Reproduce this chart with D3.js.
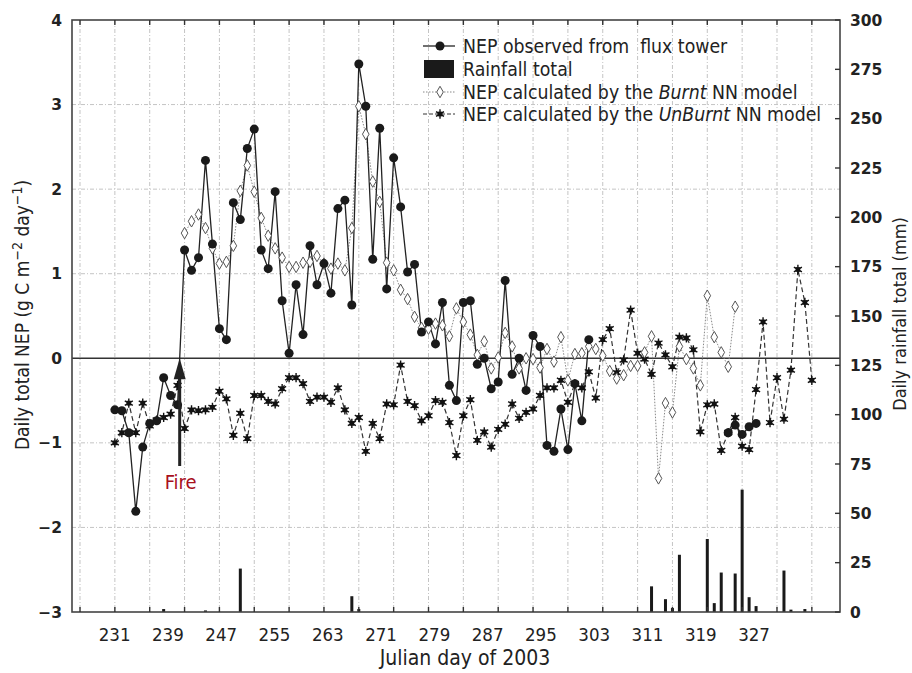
<!DOCTYPE html>
<html><head><meta charset="utf-8">
<script src="https://cdn.jsdelivr.net/npm/d3@7"></script>
<style>body{margin:0;background:#fff}svg{display:block}</style>
</head><body>
<svg id="c" width="912" height="673"></svg>
<script>
// ---------------- DATA ----------------
const unburntStart = 231;
const unburntNEP = [-1.00,-0.88,-0.53,-0.88,-0.53,-0.80,-0.73,-0.70,-0.66,-0.32,
 -0.83,-0.61,-0.62,-0.61,-0.58,-0.39,-0.48,-0.91,-0.65,-0.95,
 -0.44,-0.44,-0.51,-0.54,-0.36,-0.23,-0.23,-0.30,-0.51,-0.46,
 -0.46,-0.52,-0.35,-0.61,-0.77,-0.70,-1.10,-0.77,-0.95,-0.54,
 -0.55,-0.08,-0.51,-0.56,-0.74,-0.68,-0.50,-0.52,-0.76,-1.15,
 -0.68,-0.49,-0.97,-0.87,-1.05,-0.84,-0.78,-0.54,-0.71,-0.64,
 -0.60,-0.44,-0.35,-0.35,-0.26,-0.52,-0.30,-0.35,-0.16,-0.47,
 0.22,0.35,-0.17,-0.02,0.57,0.06,-0.01,-0.19,0.18,0.04,
 -0.10,0.25,0.24,0.10,-0.87,-0.55,-0.54,-1.09,-0.88,-0.70,
 -1.04,-1.08,-0.37,0.43,-0.76,-0.23,-0.72,-0.14,1.05,0.66,-0.26];

const burntStart = 241;
const burntNEP = [1.48,1.62,1.70,1.54,1.30,1.12,1.14,1.33,1.98,2.28,
 1.97,1.66,1.45,1.30,1.19,1.08,1.08,1.13,1.14,1.21,
 1.12,1.06,1.12,1.04,1.54,2.98,2.65,2.09,1.85,1.13,
 1.04,0.81,0.70,0.49,0.36,0.35,0.41,0.39,0.26,0.59,
 0.43,0.28,0.04,0.20,-0.12,0.01,0.30,0.14,-0.12,0.00,
 -0.01,-0.11,0.11,-0.04,0.25,-0.26,0.05,0.06,0.14,0.11,
 0.03,-0.15,-0.24,-0.20,-0.09,-0.09,0.07,0.26,-1.42,-0.53,
 -0.64,0.14,-0.01,-0.12,-0.32,0.74,0.25,0.07,-0.10,0.61];

const observedStart = 231;
const observedNEP = [-0.61,-0.62,-0.88,-1.81,-1.05,-0.77,-0.74,-0.23,-0.44,-0.55,
 1.28,1.04,1.19,2.34,1.35,0.35,0.22,1.84,1.64,2.48,
 2.71,1.28,1.06,1.97,0.68,0.06,0.87,0.28,1.33,0.87,
 1.12,0.77,1.77,1.87,0.63,3.48,2.98,1.17,2.72,0.82,
 2.37,1.79,1.02,1.11,0.31,0.43,0.17,0.66,-0.32,-0.50,
 0.66,0.68,-0.07,0.00,-0.36,-0.28,0.92,-0.19,0.00,-0.38,
 0.27,0.14,-1.03,-1.10,-0.60,-1.08,-0.30,-0.74,0.22,null,
 null,null,null,null,null,null,null,null,null,null,
 null,null,null,null,null,null,null,null,-0.88,-0.79,
 -0.90,-0.81,-0.77];

const rainDays = [238,244,249,265,266,308,310,311,312,316,317,318,320,321,322,323,327,328,330];
const rainMM   = [1.5,0.8,22,8,1.5,13,6.5,2,29,37,4.5,20,19.5,62,7.5,3,21,1.2,1.5];

const fireDay = 240.3;
const xTickLabels = [231,239,247,255,263,271,279,287,295,303,311,319,327];
const yTickLabels = [-3,-2,-1,0,1,2,3,4];
const rainTicks = [0,25,50,75,100,125,150,175,200,225,250,275,300];
const gridDays = d3.range(226, 332, 5);

// ---------------- LAYOUT ----------------
const L = 72, R = 840, T = 20, B = 612;
const svg = d3.select("#c");
const x = d3.scaleLinear().domain([224.85, 335.04]).range([L, R]);
const xLab = d3.scaleLinear().domain([224.6, 339.9]).range([L, R]);
const y = d3.scaleLinear().domain([-3, 4]).range([B, T]);
const yR = d3.scaleLinear().domain([0, 300]).range([B, T]);
const condensed = "'DejaVu Sans Condensed','DejaVu Sans',sans-serif";
const ink = "#222";

// gridlines
const grid = svg.append("g").attr("stroke", "#c4c4c4").attr("stroke-width", 1).attr("stroke-dasharray", "4,2,1,2");
grid.selectAll("line.v").data(gridDays).join("line")
  .attr("x1", d => x(d)).attr("x2", d => x(d)).attr("y1", T).attr("y2", B);
grid.selectAll("line.h").data(yTickLabels.filter(v => v !== 0 && v !== 4 && v !== -3)).join("line")
  .attr("x1", L).attr("x2", R).attr("y1", d => y(d)).attr("y2", d => y(d));

// rainfall bars
svg.append("g").selectAll("rect").data(rainDays.map((d, i) => ({d, v: rainMM[i]}))).join("rect")
  .attr("x", d => x(d.d) - 1.5).attr("width", 3)
  .attr("y", d => yR(d.v)).attr("height", d => yR(0) - yR(d.v)).attr("fill", "#1a1a1a");

// zero line
svg.append("line").attr("x1", L).attr("x2", R).attr("y1", y(0)).attr("y2", y(0))
  .attr("stroke", "#333").attr("stroke-width", 1.6);

// series
const toPts = (start, arr) => arr.map((v, i) => ({d: start + i, v}));
const obs = toPts(observedStart, observedNEP);
const brn = toPts(burntStart, burntNEP);
const unb = toPts(unburntStart, unburntNEP);
const line = d3.line().defined(p => p.v !== null).x(p => x(p.d)).y(p => y(p.v));

svg.append("path").attr("d", line(brn)).attr("fill", "none").attr("stroke", "#888")
  .attr("stroke-width", 1).attr("stroke-dasharray", "1.5,1.5");
svg.append("path").attr("d", line(unb)).attr("fill", "none").attr("stroke", "#333")
  .attr("stroke-width", 1.2).attr("stroke-dasharray", "5,3");
svg.append("path").attr("d", line(obs)).attr("fill", "none").attr("stroke", ink)
  .attr("stroke-width", 1.3);

const star = d3.symbol().type(d3.symbolAsterisk).size(60)();
const sq = d3.symbol().type(d3.symbolSquare).size(22)();
function drawStar(g) {
  g.append("path").attr("d", star).attr("stroke", "#111").attr("stroke-width", 1.4).attr("fill", "none");
  g.append("path").attr("d", sq).attr("fill", "#111");
}
const diamond = d3.symbol().type(d3.symbolDiamond).size(38)();

svg.append("g").selectAll("g").data(unb).join("g")
  .attr("transform", p => `translate(${x(p.d)},${y(p.v)})`).each(function(){ drawStar(d3.select(this)); });
svg.append("g").selectAll("path").data(brn).join("path")
  .attr("transform", p => `translate(${x(p.d)},${y(p.v)})`).attr("d", diamond)
  .attr("fill", "#fff").attr("stroke", "#555").attr("stroke-width", 1);
svg.append("g").selectAll("circle").data(obs.filter(p => p.v !== null)).join("circle")
  .attr("cx", p => x(p.d)).attr("cy", p => y(p.v)).attr("r", 4.5).attr("fill", "#1a1a1a");

// frame
svg.append("rect").attr("x", L).attr("y", T).attr("width", R - L).attr("height", B - T)
  .attr("fill", "none").attr("stroke", "#444").attr("stroke-width", 1.6);

// frame ticks (top & bottom at grid days, right at rain ticks)
const tk = svg.append("g").attr("stroke", "#333").attr("stroke-width", 1.4);
tk.selectAll("line.t").data(gridDays).join("line").attr("x1", d => x(d)).attr("x2", d => x(d)).attr("y1", T).attr("y2", T + 5);
tk.selectAll("line.b").data(gridDays).join("line").attr("x1", d => x(d)).attr("x2", d => x(d)).attr("y1", B).attr("y2", B - 5);
tk.selectAll("line.r").data(rainTicks).join("line").attr("x1", R).attr("x2", R - 5).attr("y1", d => yR(d)).attr("y2", d => yR(d));

// axis labels
svg.append("g").selectAll("text").data(xTickLabels).join("text")
  .attr("x", d => xLab(d)).attr("y", 641).attr("text-anchor", "middle")
  .attr("font-family", condensed).attr("font-size", 18.5).attr("fill", ink).text(d => d);
svg.append("g").selectAll("text").data(yTickLabels).join("text")
  .attr("x", 62).attr("y", d => y(d)).attr("dy", "0.36em").attr("text-anchor", "end")
  .attr("font-family", "'DejaVu Sans',sans-serif").attr("font-weight", "bold").attr("font-size", 15.5)
  .attr("fill", ink).text(d => d < 0 ? "\u2212" + Math.abs(d) : d);
svg.append("g").selectAll("text").data(rainTicks).join("text")
  .attr("x", 850).attr("y", d => yR(d)).attr("dy", "0.36em").attr("text-anchor", "start")
  .attr("font-family", "'DejaVu Sans',sans-serif").attr("font-weight", "bold").attr("font-size", 15.5)
  .attr("fill", ink).text(d => d);

// titles
svg.append("text").attr("x", 465).attr("y", 665).attr("text-anchor", "middle")
  .attr("font-family", condensed).attr("font-size", 21).attr("fill", ink).text("Julian day of 2003");
const lt = svg.append("text").attr("transform", "translate(29,315) rotate(-90)").attr("text-anchor", "middle")
  .attr("font-family", condensed).attr("font-size", 19).attr("fill", ink);
lt.append("tspan").text("Daily total NEP (g C m");
lt.append("tspan").attr("dy", -7).attr("font-size", 14).text("\u22122");
lt.append("tspan").attr("dy", 7).text(" day");
lt.append("tspan").attr("dy", -7).attr("font-size", 14).text("\u22121");
lt.append("tspan").attr("dy", 7).text(")");
svg.append("text").attr("transform", "translate(906,314) rotate(-90)").attr("text-anchor", "middle")
  .attr("font-family", condensed).attr("font-size", 18).attr("fill", ink).text("Daily rainfall total (mm)");

// fire annotation
const fx = x(fireDay);
svg.append("line").attr("x1", fx).attr("x2", fx).attr("y1", 466).attr("y2", y(0) + 18)
  .attr("stroke", ink).attr("stroke-width", 3);
svg.append("path").attr("d", `M${fx},${y(0)} L${fx - 6},${y(0) + 21} L${fx + 6},${y(0) + 21} Z`).attr("fill", ink);
svg.append("text").attr("x", fx + 1).attr("y", 489).attr("text-anchor", "middle")
  .attr("font-family", condensed).attr("font-size", 20).attr("fill", "#a8101c").text("Fire");

// legend
const lg = svg.append("g").attr("font-family", condensed).attr("font-size", 19.3).attr("fill", ink);
const rows = [46, 69, 92, 114];
lg.append("line").attr("x1", 423).attr("x2", 455).attr("y1", rows[0]).attr("y2", rows[0]).attr("stroke", ink).attr("stroke-width", 1.3);
lg.append("circle").attr("cx", 440).attr("cy", rows[0]).attr("r", 4.5).attr("fill", "#1a1a1a");
lg.append("rect").attr("x", 424).attr("y", 60).attr("width", 30).attr("height", 18).attr("fill", "#1a1a1a");
lg.append("line").attr("x1", 423).attr("x2", 455).attr("y1", rows[2]).attr("y2", rows[2]).attr("stroke", "#888").attr("stroke-dasharray", "1.5,1.5");
lg.append("path").attr("d", diamond).attr("transform", `translate(440,${rows[2]})`).attr("fill", "#fff").attr("stroke", "#555");
lg.append("line").attr("x1", 423).attr("x2", 455).attr("y1", rows[3]).attr("y2", rows[3]).attr("stroke", "#333").attr("stroke-dasharray", "4,2");
drawStar(lg.append("g").attr("transform", `translate(440,${rows[3]})`));
lg.append("text").attr("x", 463).attr("y", rows[0]).attr("dy", "0.35em").style("white-space", "pre").text("NEP observed from  flux tower");
lg.append("text").attr("x", 463).attr("y", rows[1]).attr("dy", "0.35em").text("Rainfall total");
const t3 = lg.append("text").attr("x", 463).attr("y", rows[2]).attr("dy", "0.35em");
t3.append("tspan").text("NEP calculated by the ");
t3.append("tspan").attr("font-style", "italic").text("Burnt");
t3.append("tspan").text(" NN model");
const t4 = lg.append("text").attr("x", 463).attr("y", rows[3]).attr("dy", "0.35em");
t4.append("tspan").text("NEP calculated by the ");
t4.append("tspan").attr("font-style", "italic").text("UnBurnt");
t4.append("tspan").text(" NN model");
</script>
</body></html>
